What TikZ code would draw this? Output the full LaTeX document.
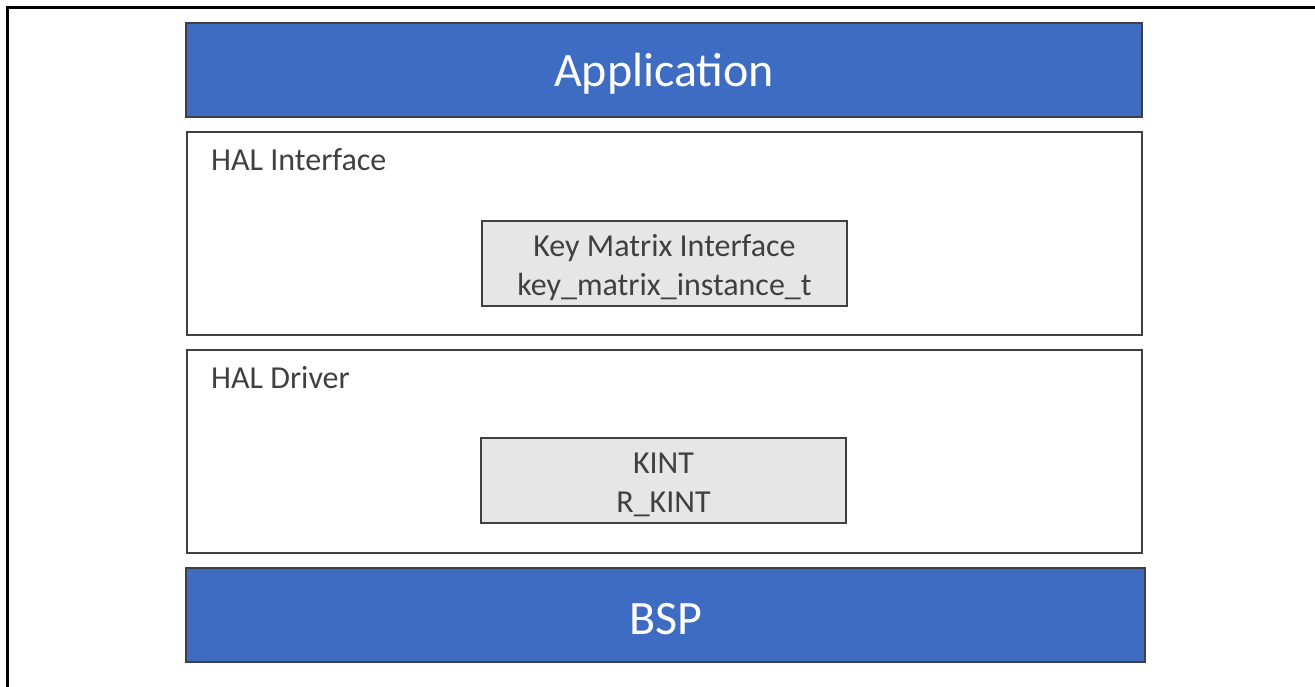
\documentclass[tikz,border=0pt]{standalone}
\usepackage{fontspec}
\setmainfont{Carlito}
\usetikzlibrary{positioning}

\definecolor{layerblue}{RGB}{62,108,194}
\definecolor{edgegray}{RGB}{64,64,64}
\definecolor{boxgray}{RGB}{231,230,230}

\begin{document}
\begin{tikzpicture}[x=1pt, y=-1pt, node distance=15pt]
	\tikzstyle{bar} = [rectangle, draw=edgegray, line width=2.2pt, fill=layerblue, minimum width=956pt, minimum height=94pt, outer sep=0pt]
	\tikzstyle{bartext} = [inner sep=0pt, text=white, yshift=-4pt, font=\fontsize{48}{56}\selectfont]
	\tikzstyle{layer} = [rectangle, draw=edgegray, line width=1.8pt, fill=white, minimum width=955pt, minimum height=203pt, outer sep=0pt]
	\tikzstyle{block} = [rectangle, draw=edgegray, line width=1.8pt, fill=boxgray, minimum width=365pt, minimum height=85pt, outer sep=0pt]
	\tikzstyle{blocktext} = [inner sep=0pt, text=edgegray, yshift=-4pt, align=center, font=\fontsize{32}{39}\selectfont]
	\tikzstyle{title} = [inner sep=0pt, text=edgegray, font=\fontsize{32}{39}\selectfont]

	\useasboundingbox (0,0) rectangle (1315,687);
	\draw[line width=3pt] (7.5,700) -- (7.5,8) -- (1330,8);

	% stack of layers
	\node[bar] (app) at (664,70) {};
	\node[layer, below=of app, xshift=0.5pt] (iface) {};
	\node[layer, below=of iface] (drv) {};
	\node[bar, below=of drv, minimum width=959pt, xshift=1pt] (bsp) {};

	\node[bartext] (apptext) at (app.center) {Application};
	\node[bartext] (bsptext) at (bsp.center) {BSP};

	\node[title, below right=16pt and 24pt of iface.north west] (ifacetitle) {HAL Interface};
	\node[title, below right=16pt and 24pt of drv.north west] (drvtitle) {HAL Driver};

	% modules inside the HAL layers
	\node[block, below=89pt of iface.north] (keymatrix) {};
	\node[blocktext] (keymatrixtext) at (keymatrix.center) {Key Matrix Interface\\key\_matrix\_instance\_t};
	\node[block, below=88pt of drv.north, xshift=-1pt] (kint) {};
	\node[blocktext] (kinttext) at (kint.center) {KINT\\R\_KINT};
\end{tikzpicture}
\end{document}
